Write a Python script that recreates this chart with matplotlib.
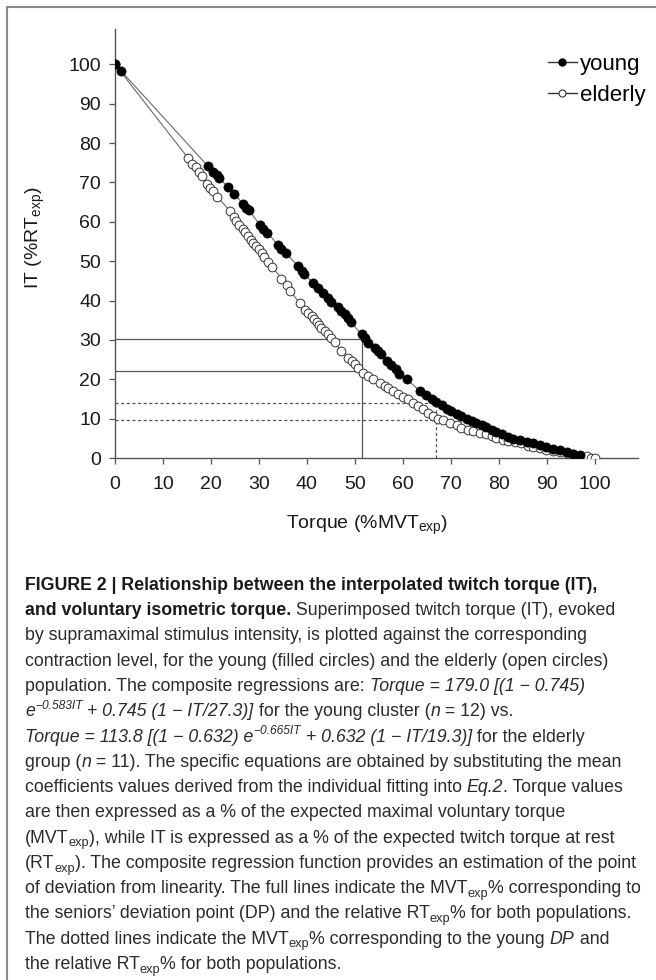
import matplotlib
matplotlib.use("Agg")
import matplotlib.pyplot as plt
from matplotlib import font_manager
from matplotlib.lines import Line2D

# ---------------- data ----------------
young_torque = [0, 1.3, 19.4, 20.5, 21.2, 21.7, 23.6, 24.9, 26.7, 27.4, 27.9, 30.2, 30.9, 31.7,
                34.0, 34.7, 35.6, 38.2, 38.9, 39.4, 41.3, 42.4, 43.4, 44.4, 45.1, 46.5, 47.2,
                47.9, 48.6, 49.1, 51.4, 52.1, 52.8, 54.2, 54.9, 55.4, 56.7, 57.6, 58.5, 59.2,
                60.8, 63.5, 64.9, 66.0, 67.0, 68.1, 69.1, 70.1, 71.2, 72.2, 73.3, 74.3, 75.3,
                76.4, 77.4, 78.5, 79.5, 80.6, 82.0, 83.0, 84.4, 85.8, 87.1, 88.5, 89.9, 91.3,
                92.7, 94.1, 95.5, 96.9]
young_it = [100, 98.3, 74.1, 72.7, 71.8, 71.1, 68.8, 67.1, 64.5, 63.5, 62.9, 59.3, 58.3, 57.2,
            54.2, 53.2, 52.1, 48.7, 47.6, 46.8, 44.5, 43.2, 42.0, 40.7, 39.7, 38.3, 37.3,
            36.5, 35.6, 34.6, 31.4, 30.4, 29.3, 28.0, 27.2, 26.5, 24.6, 23.6, 22.5, 21.4,
            20.0, 17.1, 15.9, 15.1, 14.2, 13.4, 12.5, 11.9, 11.3, 10.6, 10.0, 9.4, 8.9,
            8.3, 7.9, 7.2, 6.6, 6.2, 5.3, 4.9, 4.5, 4.1, 3.7, 3.2, 2.8, 2.4,
            2.0, 1.5, 1.1, 0.8]

elderly_torque = [0, 15.3, 16.0, 16.9, 17.6, 18.1, 19.1, 19.8, 20.5, 21.3, 24.0, 24.8, 25.3,
                  25.9, 26.6, 27.1, 27.8, 28.3, 28.8, 29.4, 30.1, 30.6, 31.0, 31.9, 32.8, 34.7,
                  35.8, 36.5, 38.5, 39.6, 40.3, 41.0, 41.5, 42.0, 42.6, 43.0, 43.7, 44.4, 45.1,
                  45.8, 47.0, 48.6, 49.3, 50.0, 50.7, 51.6, 52.8, 53.8, 55.2, 56.3, 56.9, 58.0,
                  59.0, 60.0, 61.1, 62.1, 63.2, 64.2, 65.3, 66.3, 67.4, 68.4, 69.8, 71.2, 72.2,
                  73.6, 74.6, 76.0, 77.4, 78.5, 79.5, 80.9, 81.9, 83.3, 84.7, 86.1, 87.1, 88.5,
                  89.9, 91.3, 92.7, 94.1, 95.5, 96.9, 98.3, 99.3, 100.0]
elderly_it = [100, 76.1, 74.7, 73.9, 72.7, 71.6, 69.7, 68.7, 67.9, 66.4, 62.7, 61.3, 60.3,
              59.3, 58.3, 57.4, 56.3, 55.5, 54.6, 53.8, 53.0, 52.1, 51.0, 49.8, 48.5, 45.6,
              43.9, 42.4, 39.4, 37.7, 36.9, 36.0, 35.2, 34.6, 33.9, 33.1, 32.2, 31.4, 30.5,
              29.5, 27.2, 25.5, 24.6, 23.8, 22.8, 21.7, 20.8, 20.0, 19.1, 18.3, 17.7, 17.0,
              16.2, 15.5, 14.9, 14.0, 13.2, 12.4, 11.5, 10.7, 10.0, 9.6, 8.9, 8.3, 7.7,
              7.2, 6.9, 6.3, 6.0, 5.5, 5.2, 4.7, 4.3, 4.0, 3.7, 3.1, 2.8, 2.5,
              2.1, 1.8, 1.4, 1.3, 0.9, 0.6, 0.4, 0.1, 0.0]

# deviation points
senior_dp_torque = 51.5
senior_dp_it = [30.3, 22.2]      # young, elderly IT at seniors' DP
young_dp_torque = 67.0
young_dp_it = [14.0, 9.7]        # young, elderly IT at young DP

x_ticks = [0, 10, 20, 30, 40, 50, 60, 70, 80, 90, 100]
y_ticks = [0, 10, 20, 30, 40, 50, 60, 70, 80, 90, 100]
series_labels = ["young", "elderly"]
x_label = "Torque (%MVT$_{\\mathregular{exp}}$)"
y_label = "IT (%RT$_{\\mathregular{exp}}$)"

caption_lines = [
    [("FIGURE 2 | Relationship between the interpolated twitch torque (IT),", "b")],
    [("and voluntary isometric torque.", "b"), (" Superimposed twitch torque (IT), evoked", "r")],
    [("by supramaximal stimulus intensity, is plotted against the corresponding", "r")],
    [("contraction level, for the young (filled circles) and the elderly (open circles)", "r")],
    [("population. The composite regressions are: ", "r"), ("Torque = 179.0 [(1 \u2212 0.745)", "i")],
    [("e", "i"), ("\u22120.583IT", "sup"), (" + 0.745 (1 \u2212 IT/27.3)]", "i"),
     (" for the young cluster (", "r"), ("n", "i"), (" = 12) vs.", "r")],
    [("Torque = 113.8 [(1 \u2212 0.632) e", "i"), ("\u22120.665IT", "sup"),
     (" + 0.632 (1 \u2212 IT/19.3)]", "i"), (" for the elderly", "r")],
    [("group (", "r"), ("n", "i"), (" = 11). The specific equations are obtained by substituting the mean", "r")],
    [("coefficients values derived from the individual fitting into ", "r"), ("Eq.2", "i"), (". Torque values", "r")],
    [("are then expressed as a % of the expected maximal voluntary torque", "r")],
    [("(MVT", "r"), ("exp", "sub"), ("), while IT is expressed as a % of the expected twitch torque at rest", "r")],
    [("(RT", "r"), ("exp", "sub"), ("). The composite regression function provides an estimation of the point", "r")],
    [("of deviation from linearity. The full lines indicate the MVT", "r"), ("exp", "sub"), ("% corresponding to", "r")],
    [("the seniors\u2019 deviation point (DP) and the relative RT", "r"), ("exp", "sub"), ("% for both populations.", "r")],
    [("The dotted lines indicate the MVT", "r"), ("exp", "sub"), ("% corresponding to the young ", "r"),
     ("DP", "i"), (" and", "r")],
    [("the relative RT", "r"), ("exp", "sub"), ("% for both populations.", "r")],
]

# ---------------- setup ----------------
W, H = 656, 980
DPI = 100
names = {f.name for f in font_manager.fontManager.ttflist}
CHART_FONT = "Liberation Sans" if "Liberation Sans" in names else "DejaVu Sans"
CAP_FONT = "Liberation Sans Narrow" if "Liberation Sans Narrow" in names else CHART_FONT

plt.rcParams["font.family"] = [CHART_FONT, "DejaVu Sans"]
plt.rcParams["mathtext.fontset"] = "custom"
plt.rcParams["mathtext.rm"] = CHART_FONT

fig = plt.figure(figsize=(W / DPI, H / DPI), dpi=DPI)
fig.patch.set_facecolor("white")

def px(x0, y_top, w, h):
    return [x0 / W, 1 - (y_top + h) / H, w / W, h / H]

ax = fig.add_axes(px(115, 29, 523, 429))
ax.set_xlim(0, 109)
ax.set_ylim(0, 109)

line_col = "#6a6a6a"
ax.plot(young_torque, young_it, color=line_col, lw=0.8, zorder=2)
ax.plot(elderly_torque, elderly_it, color=line_col, lw=0.8, zorder=2)
ax.plot(elderly_torque, elderly_it, linestyle="none", marker="o", ms=6.3, mfc="white",
        mec="#333333", mew=0.7, zorder=3)
ax.plot(young_torque, young_it, linestyle="none", marker="o", ms=6.6, mfc="black",
        mec="black", mew=0.5, zorder=4)

ref_col = "#555555"
# full lines (seniors' DP)
for v in senior_dp_it:
    ax.plot([0, senior_dp_torque], [v, v], color=ref_col, lw=0.9, zorder=1)
ax.plot([senior_dp_torque, senior_dp_torque], [0, max(senior_dp_it)], color=ref_col, lw=0.9, zorder=1)
# dotted lines (young DP)
for v in young_dp_it:
    ax.plot([0, young_dp_torque], [v, v], color=ref_col, lw=0.9, ls=(0, (2.5, 2)), zorder=1)
ax.plot([young_dp_torque, young_dp_torque], [0, max(young_dp_it)], color=ref_col, lw=0.9,
        ls=(0, (2.5, 2)), zorder=1)

for s in ["top", "right"]:
    ax.spines[s].set_visible(False)
for s in ["left", "bottom"]:
    ax.spines[s].set_color("#555555")
    ax.spines[s].set_linewidth(1.0)
ax.set_xticks(x_ticks)
ax.set_yticks(y_ticks)
ax.tick_params(axis="both", direction="out", length=4, width=0.9, color="#555555",
               labelsize=14, labelcolor="#1a1a1a")
ax.tick_params(axis="x", pad=9)
ax.tick_params(axis="y", pad=6)
ax.set_xlabel(x_label, fontsize=14, color="#1a1a1a")
ax.set_ylabel(y_label, fontsize=14, color="#1a1a1a")
ax.xaxis.set_label_coords(52.5 / 109, -(525 - 458) / 429, transform=ax.transAxes)
ax.yaxis.set_label_coords(-(115 - 35) / 523, 56 / 109, transform=ax.transAxes)
ax.xaxis.label.set_va("center")
ax.yaxis.label.set_va("center")

handles = [
    Line2D([0], [0], color="#333333", lw=1.0, marker="o", ms=5, mfc="black", mec="black"),
    Line2D([0], [0], color="#333333", lw=1.0, marker="o", ms=5, mfc="white", mec="#333333", mew=0.8),
]
fig.legend(handles, series_labels, loc="upper left", bbox_to_anchor=(548 / W, 1 - 54 / H),
           frameon=False, fontsize=16, handlelength=1.3, handletextpad=0.15,
           labelspacing=0.45, borderaxespad=0, borderpad=0)

# frame lines of the figure panel (top and left only, as cropped)
fig.add_artist(Line2D([7 / W, 1], [1 - 7 / H, 1 - 7 / H], transform=fig.transFigure,
                      color="#8a8a8a", lw=1.5))
fig.add_artist(Line2D([7 / W, 7 / W], [0, 1 - 7 / H], transform=fig.transFigure,
                      color="#8a8a8a", lw=1.5))

# ---------------- caption ----------------
renderer = fig.canvas.get_renderer()

def style_kw(style, size):
    kw = dict(family=[CAP_FONT, "DejaVu Sans"], fontsize=size, color="#2b2b2b")
    if style == "b":
        kw["fontweight"] = "bold"
        kw["color"] = "#1a1a1a"
    elif style == "i":
        kw["fontstyle"] = "italic"
    elif style == "sub":
        kw["fontsize"] = size * 0.72
    elif style == "sup":
        kw["fontsize"] = size * 0.68
        kw["fontstyle"] = "italic"
    return kw

def measure(text, kw):
    t1 = fig.text(0, 0, "|" + text + "|", **kw)
    t2 = fig.text(0, 0, "||", **kw)
    w = t1.get_window_extent(renderer).width - t2.get_window_extent(renderer).width
    t1.remove()
    t2.remove()
    return w

def line_width(segs, size):
    return sum(measure(t, style_kw(s, size)) for t, s in segs)

ref_w = line_width(caption_lines[12], 10.0)
cap_size = 10.0 * 618.0 / ref_w

x_start = 25
y0 = 590
dy = 25.25
size_px = cap_size * DPI / 72
for i, segs in enumerate(caption_lines):
    x = x_start
    base = y0 + i * dy
    for text, style in segs:
        kw = style_kw(style, cap_size)
        off = 0
        if style == "sub":
            off = 0.22 * size_px
        elif style == "sup":
            off = -0.42 * size_px
        fig.text(x / W, 1 - (base + off) / H, text, va="baseline", ha="left", **kw)
        x += measure(text, kw)

fig.savefig("out.png", dpi=DPI, facecolor="white")
